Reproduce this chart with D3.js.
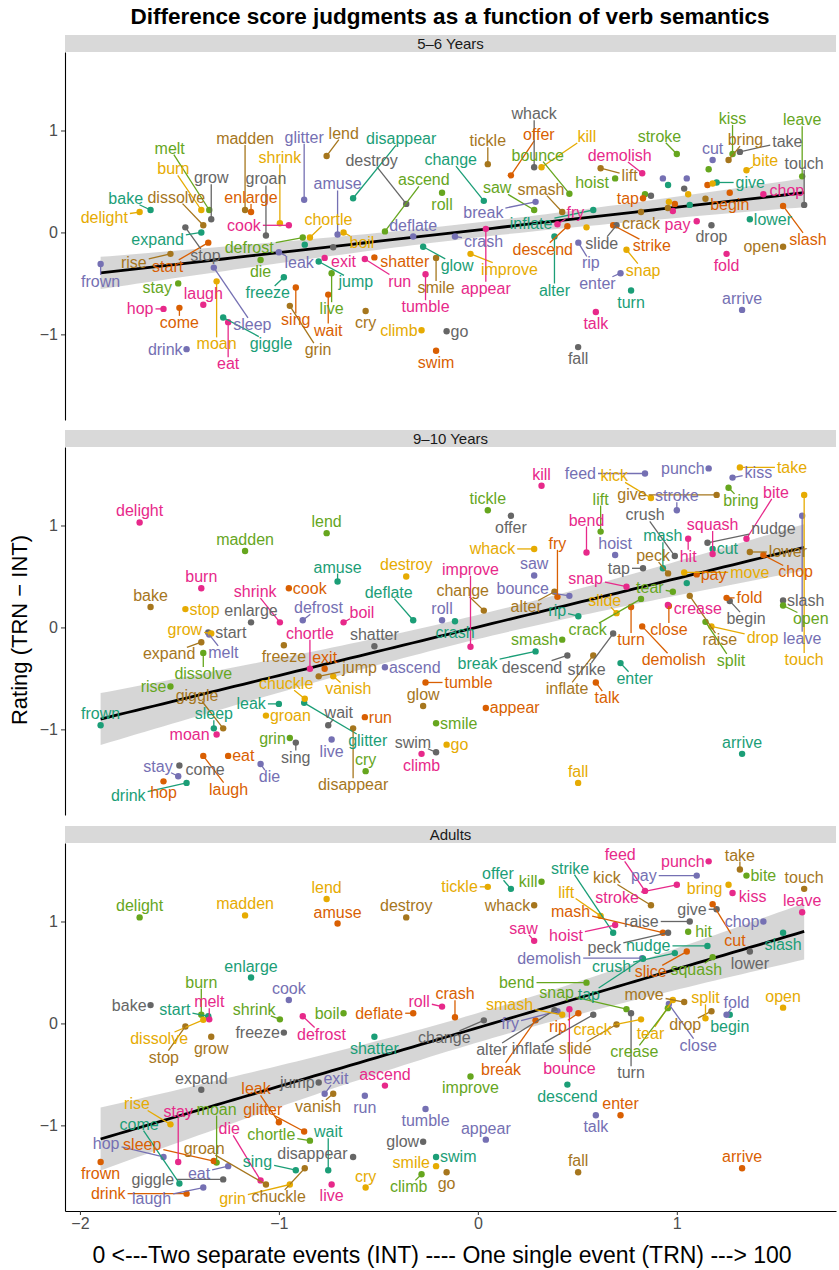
<!DOCTYPE html>
<html>
<head>
<meta charset="utf-8">
<script src="https://cdn.jsdelivr.net/npm/d3@7"></script>
<style>
  body { margin: 0; background: #fff; }
  svg text { font-family: "Liberation Sans", Arial, Helvetica, sans-serif; }
</style>
</head>
<body>
<div id="chart"></div>
<script>
/**
 * Difference score judgments as a function of verb semantics
 * - one x score per verb (shared by the three facets)
 * - per facet: rating (TRN - INT) and a colour group per verb
 * - lm fit + 95% band computed from the points
 * - labels placed next to their points, pushed outward when crowded (ggrepel style)
 */

// x score of each verb (same in every facet)
const verbX = [
  ["tickle", 0.05], ["kill", 0.32], ["feed", 0.84], ["stroke", 1.0], ["pay", 1.10],
  ["punch", 1.16], ["take", 1.317], ["bring", 1.26], ["bite", 1.35], ["touch", 1.64],
  ["offer", 0.166], ["kick", 0.87], ["cut", 1.18], ["kiss", 1.28], ["leave", 1.63],
  ["whack", 0.283], ["strike", 0.68], ["lift", 0.617], ["hoist", 0.69], ["mash", 0.93],
  ["raise", 1.065], ["give", 1.20], ["chop", 1.435], ["demolish", 0.826], ["peck", 0.956],
  ["hit", 1.057], ["nudge", 1.154], ["slash", 1.534], ["saw", 0.283], ["tap", 0.83],
  ["crush", 0.99], ["slice", 1.05], ["squash", 1.18], ["lower", 1.367], ["bend", 0.546],
  ["snap", 0.747], ["close", 0.96], ["tear", 0.98], ["bounce", 0.46], ["rip", 0.505],
  ["fry", 0.40], ["alter", 0.385], ["change", 0.03], ["turn", 0.77], ["crease", 0.955],
  ["move", 1.037], ["drop", 1.174], ["inflate", 0.58], ["begin", 1.266], ["open", 1.534],
  ["break", 0.29], ["crash", -0.115], ["smash", 0.424], ["crack", 0.82], ["split", 1.144],
  ["fold", 1.25], ["slide", 0.697], ["delight", -1.70], ["madden", -1.17], ["lend", -0.76],
  ["amuse", -0.705], ["destroy", -0.36], ["enlarge", -1.14], ["start", -1.355], ["cook", -0.95],
  ["bake", -1.645], ["burn", -1.39], ["shrink", -0.995], ["boil", -0.675], ["roll", -0.18],
  ["dissolve", -1.38], ["melt", -1.35], ["defrost", -0.88], ["deflate", -0.325], ["stop", -1.47],
  ["grow", -1.34], ["freeze", -0.975], ["shatter", -0.52], ["jump", -0.80], ["expand", -1.39],
  ["vanish", -0.727], ["ascend", -0.467], ["exit", -0.77], ["run", -0.568], ["tumble", -0.263],
  ["improve", -0.037], ["descend", 0.45], ["rise", -1.545], ["leak", -1.0], ["glitter", -0.873],
  ["chortle", -0.844], ["glow", -0.275], ["moan", -1.313], ["disappear", -0.627], ["frown", -1.896],
  ["hop", -1.58], ["sleep", -1.327], ["eat", -1.255], ["chuckle", -0.87], ["stay", -1.506],
  ["giggle", -1.28], ["sing", -0.915], ["wait", -0.752], ["swim", -0.21], ["smile", -0.21],
  ["appear", 0.04], ["talk", 0.593], ["enter", 0.717], ["come", -1.50], ["drink", -1.464],
  ["laugh", -1.38], ["die", -1.092], ["groan", -1.065], ["grin", -0.945], ["live", -0.735],
  ["cry", -0.564], ["climb", -0.283], ["go", -0.157], ["fall", 0.504], ["arrive", 1.328]
];

// [verb, rating, colour group]  groups: t o p k g y b n  (Dark2 order)
const ratings56 = [
  ["tickle", 0.67, "b"], ["kill", 0.64, "y"], ["feed", 0.375, "g"], ["stroke", 0.77, "g"], ["pay", 0.11, "k"],
  ["punch", 0.62, "g"], ["take", 0.79, "n"], ["bring", 0.71, "b"], ["bite", 0.61, "y"], ["touch", 0.27, "n"],
  ["offer", 0.56, "o"], ["kick", 0.36, "n"], ["cut", 0.71, "p"], ["kiss", 0.77, "g"], ["leave", 0.55, "g"],
  ["whack", 0.64, "n"], ["strike", 0.07, "o"], ["lift", 0.63, "b"], ["hoist", 0.53, "g"], ["mash", 0.53, "p"],
  ["raise", 0.27, "t"], ["give", 0.49, "t"], ["chop", 0.375, "k"], ["demolish", 0.58, "k"], ["peck", 0.465, "t"],
  ["hit", 0.375, "y"], ["nudge", 0.465, "o"], ["slash", 0.26, "o"], ["saw", 0.22, "g"], ["tap", 0.335, "o"],
  ["crush", 0.28, "o"], ["slice", 0.53, "p"], ["squash", 0.48, "y"], ["lower", 0.13, "t"], ["bend", 0.05, "y"],
  ["snap", -0.17, "y"], ["close", 0.30, "y"], ["tear", 0.21, "k"], ["bounce", 0.38, "g"], ["rip", -0.10, "p"],
  ["fry", 0.08, "k"], ["alter", -0.04, "t"], ["change", 0.31, "t"], ["turn", -0.57, "t"], ["crease", 0.24, "b"],
  ["move", 0.43, "n"], ["drop", 0.07, "n"], ["inflate", 0.22, "t"], ["begin", 0.39, "o"], ["open", -0.14, "b"],
  ["break", 0.30, "p"], ["crash", -0.04, "p"], ["smash", 0.20, "b"], ["crack", 0.20, "b"], ["split", 0.33, "b"],
  ["fold", -0.21, "k"], ["slide", 0.07, "n"], ["delight", 0.20, "y"], ["madden", 0.22, "b"], ["lend", 0.75, "b"],
  ["amuse", -0.02, "p"], ["destroy", 0.28, "n"], ["enlarge", 0.20, "o"], ["start", -0.10, "o"], ["cook", 0.07, "k"],
  ["bake", 0.22, "t"], ["burn", 0.22, "y"], ["shrink", 0.09, "y"], ["boil", 0.0, "y"], ["roll", 0.39, "g"],
  ["dissolve", 0.07, "b"], ["melt", 0.22, "g"], ["defrost", -0.05, "g"], ["deflate", -0.04, "p"], ["stop", 0.05, "n"],
  ["grow", 0.13, "n"], ["freeze", -0.44, "t"], ["shatter", -0.245, "o"], ["jump", -0.285, "t"], ["expand", 0.0, "t"],
  ["vanish", -0.145, "n"], ["ascend", 0.01, "g"], ["exit", -0.25, "k"], ["run", -0.26, "k"], ["tumble", -0.41, "k"],
  ["improve", -0.21, "y"], ["descend", 0.06, "o"], ["rise", -0.21, "b"], ["leak", -0.195, "p"], ["glitter", 0.32, "p"],
  ["chortle", -0.05, "y"], ["glow", -0.14, "t"], ["moan", -0.48, "y"], ["disappear", 0.335, "t"], ["frown", -0.31, "p"],
  ["hop", -0.75, "k"], ["sleep", -0.345, "p"], ["eat", -0.88, "k"], ["chuckle", -0.12, "t"], ["stay", -0.50, "g"],
  ["giggle", -0.835, "t"], ["sing", -0.54, "o"], ["wait", -0.61, "o"], ["swim", -1.16, "o"], ["smile", -0.25, "b"],
  ["appear", 0.035, "k"], ["talk", -0.78, "k"], ["enter", -0.40, "p"], ["come", -0.74, "o"], ["drink", -1.145, "p"],
  ["laugh", -0.71, "k"], ["die", -0.27, "g"], ["groan", -0.03, "n"], ["grin", -0.72, "b"], ["live", -0.40, "g"],
  ["cry", -0.77, "b"], ["climb", -0.96, "y"], ["go", -0.97, "n"], ["fall", -1.125, "n"], ["arrive", -0.76, "p"]
];

const ratings910 = [
  ["tickle", 1.15, "g"], ["kill", 1.39, "k"], ["feed", 1.51, "p"], ["stroke", 1.15, "p"], ["pay", 0.52, "o"],
  ["punch", 1.56, "p"], ["take", 1.57, "y"], ["bring", 1.37, "g"], ["bite", 0.87, "k"], ["touch", 1.30, "y"],
  ["offer", 1.095, "n"], ["kick", 1.27, "y"], ["cut", 0.77, "t"], ["kiss", 1.47, "p"], ["leave", 1.095, "p"],
  ["whack", 0.77, "y"], ["strike", -0.06, "n"], ["lift", 0.94, "g"], ["hoist", 0.71, "p"], ["mash", 0.58, "t"],
  ["raise", 0.31, "b"], ["give", 1.30, "b"], ["chop", 0.71, "o"], ["demolish", 0.01, "o"], ["peck", 0.53, "b"],
  ["hit", 0.87, "k"], ["nudge", 0.83, "n"], ["slash", 0.265, "n"], ["saw", 0.51, "p"], ["tap", 0.58, "n"],
  ["crush", 0.70, "n"], ["slice", 0.435, "t"], ["squash", 0.72, "k"], ["lower", 0.74, "b"], ["bend", 0.735, "k"],
  ["snap", 0.40, "k"], ["close", 0.21, "o"], ["tear", 0.35, "g"], ["bounce", 0.31, "p"], ["rip", 0.11, "t"],
  ["fry", 0.30, "o"], ["alter", 0.35, "b"], ["change", 0.165, "b"], ["turn", 0.20, "o"], ["crease", 0.22, "k"],
  ["move", 0.54, "y"], ["drop", 0.01, "y"], ["inflate", -0.275, "b"], ["begin", 0.26, "n"], ["open", 0.215, "g"],
  ["break", -0.235, "t"], ["crash", 0.06, "t"], ["smash", -0.12, "g"], ["crack", 0.28, "g"], ["split", 0.055, "g"],
  ["fold", 0.29, "o"], ["slide", 0.14, "y"], ["delight", 1.03, "k"], ["madden", 0.75, "g"], ["lend", 0.925, "g"],
  ["amuse", 0.45, "t"], ["destroy", 0.50, "y"], ["enlarge", 0.05, "n"], ["start", -0.05, "n"], ["cook", 0.385, "o"],
  ["bake", 0.20, "b"], ["burn", 0.385, "k"], ["shrink", 0.05, "k"], ["boil", 0.05, "k"], ["roll", 0.07, "p"],
  ["dissolve", -0.25, "g"], ["melt", -0.07, "p"], ["defrost", 0.07, "p"], ["deflate", 0.07, "t"], ["stop", 0.18, "y"],
  ["grow", -0.06, "y"], ["freeze", -0.175, "b"], ["shatter", -0.185, "n"], ["jump", -0.48, "b"], ["expand", -0.145, "b"],
  ["vanish", -0.48, "y"], ["ascend", -0.39, "p"], ["exit", -0.405, "o"], ["run", -0.88, "o"], ["tumble", -0.54, "o"],
  ["improve", -0.19, "k"], ["descend", -0.275, "n"], ["rise", -0.58, "g"], ["leak", -0.75, "t"], ["glitter", -0.74, "t"],
  ["chortle", -0.405, "k"], ["glow", -0.77, "b"], ["moan", -1.05, "k"], ["disappear", -0.99, "b"], ["frown", -0.96, "t"],
  ["hop", -1.51, "o"], ["sleep", -0.99, "t"], ["eat", -1.26, "o"], ["chuckle", -0.70, "y"], ["stay", -1.46, "p"],
  ["giggle", -0.99, "b"], ["sing", -1.13, "n"], ["wait", -0.96, "n"], ["swim", -1.225, "n"], ["smile", -0.94, "g"],
  ["appear", -0.79, "o"], ["talk", -0.54, "o"], ["enter", -0.35, "t"], ["come", -1.355, "n"], ["drink", -1.525, "t"],
  ["laugh", -1.26, "o"], ["die", -1.34, "p"], ["groan", -0.865, "y"], ["grin", -1.085, "g"], ["live", -1.10, "p"],
  ["cry", -1.41, "g"], ["climb", -1.24, "k"], ["go", -1.15, "y"], ["fall", -1.525, "y"], ["arrive", -1.24, "t"]
];

const ratingsAdult = [
  ["tickle", 1.34, "y"], ["kill", 1.39, "g"], ["feed", 1.30, "k"], ["stroke", 1.36, "k"], ["pay", 1.45, "p"],
  ["punch", 1.59, "k"], ["take", 1.51, "b"], ["bring", 1.36, "y"], ["bite", 1.45, "g"], ["touch", 1.32, "b"],
  ["offer", 1.32, "t"], ["kick", 1.16, "b"], ["cut", 1.17, "o"], ["kiss", 1.28, "k"], ["leave", 1.09, "k"],
  ["whack", 1.16, "b"], ["strike", 0.89, "t"], ["lift", 1.055, "y"], ["hoist", 0.965, "k"], ["mash", 0.89, "o"],
  ["raise", 1.00, "n"], ["give", 1.12, "n"], ["chop", 1.00, "p"], ["demolish", 0.64, "p"], ["peck", 0.89, "n"],
  ["hit", 0.90, "g"], ["nudge", 0.76, "t"], ["slash", 0.89, "t"], ["saw", 0.81, "k"], ["tap", 0.635, "t"],
  ["crush", 0.69, "t"], ["slice", 0.705, "o"], ["squash", 0.65, "g"], ["lower", 0.705, "n"], ["bend", 0.40, "g"],
  ["snap", 0.14, "g"], ["close", 0.19, "p"], ["tear", 0.23, "y"], ["bounce", 0.14, "k"], ["rip", 0.10, "o"],
  ["fry", 0.12, "p"], ["alter", 0.13, "n"], ["change", 0.03, "n"], ["turn", 0.10, "n"], ["crease", 0.15, "g"],
  ["move", 0.21, "b"], ["drop", 0.12, "b"], ["inflate", 0.085, "n"], ["begin", 0.085, "t"], ["open", 0.155, "y"],
  ["break", 0.03, "o"], ["crash", 0.06, "o"], ["smash", 0.085, "y"], ["crack", 0.04, "y"], ["split", 0.05, "y"],
  ["fold", 0.085, "p"], ["slide", -0.01, "b"], ["delight", 1.04, "g"], ["madden", 1.06, "y"], ["lend", 1.22, "y"],
  ["amuse", 0.98, "o"], ["destroy", 1.04, "b"], ["enlarge", 0.45, "t"], ["start", 0.07, "t"], ["cook", 0.23, "p"],
  ["bake", 0.18, "n"], ["burn", 0.085, "g"], ["shrink", 0.04, "g"], ["boil", 0.10, "g"], ["roll", 0.165, "k"],
  ["dissolve", 0.035, "y"], ["melt", 0.04, "k"], ["defrost", 0.07, "k"], ["deflate", 0.10, "o"], ["stop", -0.03, "b"],
  ["grow", -0.13, "b"], ["freeze", -0.09, "n"], ["shatter", -0.13, "t"], ["jump", -0.58, "n"], ["expand", -0.65, "n"],
  ["vanish", -0.69, "b"], ["ascend", -0.61, "k"], ["exit", -0.69, "p"], ["run", -0.71, "p"], ["tumble", -0.84, "p"],
  ["improve", -0.52, "g"], ["descend", -0.60, "t"], ["rise", -0.99, "y"], ["leak", -0.97, "o"], ["glitter", -1.06, "o"],
  ["chortle", -1.15, "g"], ["glow", -1.16, "n"], ["moan", -1.365, "g"], ["disappear", -1.31, "n"], ["frown", -1.36, "o"],
  ["hop", -1.31, "p"], ["sleep", -1.35, "o"], ["eat", -1.40, "p"], ["chuckle", -1.42, "b"], ["stay", -1.36, "k"],
  ["giggle", -1.53, "n"], ["sing", -1.44, "t"], ["wait", -1.44, "t"], ["swim", -1.31, "t"], ["smile", -1.40, "y"],
  ["appear", -1.14, "p"], ["talk", -0.90, "p"], ["enter", -0.90, "o"], ["come", -1.57, "t"], ["drink", -1.67, "o"],
  ["laugh", -1.61, "p"], ["die", -1.54, "k"], ["groan", -1.58, "b"], ["grin", -1.58, "y"], ["live", -1.58, "k"],
  ["cry", -1.61, "y"], ["climb", -1.48, "g"], ["go", -1.46, "b"], ["fall", -1.46, "b"], ["arrive", -1.42, "o"]
];

// points whose labels were dropped (too crowded)
const unlabeled56 = ["feed", "punch", "kick", "mash", "raise", "peck", "hit", "nudge", "crush", "slice",
  "squash", "bend", "close", "tear", "crease", "move", "split", "vanish", "chuckle"];
const unlabeled910 = ["slice"];
const unlabeledAdult = [];

const facetNames = ["5\u20136 Years", "9\u201310 Years", "Adults"];
const xTicks = [-2, -1, 0, 1];
const yTicks = [-1, 0, 1];

// ---------------------------------------------------------------
// 1) Layout
const W = 839, H = 1270;
const plotL = 65, plotR = 836, panelH = 368, stripH = 17;
const panelTops = [52, 447, 843];
const labelSize = 16;

const svg = d3.select("#chart").append("svg")
  .attr("width", W)
  .attr("height", H);

const x = d3.scaleLinear().domain([-2.075, 1.80]).range([plotL, plotR]);
const color = d3.scaleOrdinal()
  .domain(["t", "o", "p", "k", "g", "y", "b", "n"])
  .range(d3.schemeDark2);
const xOf = new Map(verbX);
const minus = v => (v < 0 ? "\u2212" + Math.abs(v) : String(v));

// 2) Title + axis titles
svg.append("text")
  .attr("x", 450).attr("y", 24)
  .attr("text-anchor", "middle")
  .attr("font-size", 22.5)
  .attr("font-weight", "bold")
  .text("Difference score judgments as a function of verb semantics");

svg.append("text")
  .attr("transform", "translate(27,630) rotate(-90)")
  .attr("text-anchor", "middle")
  .attr("font-size", 22)
  .text("Rating (TRN \u2212 INT)");

svg.append("text")
  .attr("x", 442).attr("y", 1263)
  .attr("text-anchor", "middle")
  .attr("font-size", 23)
  .text("0 <---Two separate events (INT) ---- One single event (TRN) ---> 100");

// text width helper
const meas = svg.append("text").attr("font-size", labelSize);
function textWidth(s) {
  meas.text(s);
  return meas.node().getComputedTextLength();
}

// 3) lm fit with 95% band
function fitLm(pts) {
  const n = pts.length;
  const mx = d3.mean(pts, d => d.x), my = d3.mean(pts, d => d.y);
  const sxx = d3.sum(pts, d => (d.x - mx) ** 2);
  const sxy = d3.sum(pts, d => (d.x - mx) * (d.y - my));
  const b = sxy / sxx, a = my - b * mx;
  const s = Math.sqrt(d3.sum(pts, d => (d.y - a - b * d.x) ** 2) / (n - 2));
  const t = 1.98;
  return xv => {
    const fit = a + b * xv;
    const se = s * Math.sqrt(1 / n + (xv - mx) ** 2 / sxx);
    return { fit, lo: fit - t * se, hi: fit + t * se };
  };
}

// 4) Label placement: try spots round each point, widening until free.
//    A few processing orders are tried; the one with the shortest leaders wins.
function placeLabels(nodes, pts, top) {
  const minX = plotL + 2, maxX = plotR - 2, minY = top + 2, maxY = top + panelH - 2;
  const pad = 1.5, pr = 3;
  const angles = [-90, 90, 0, 180, -35, -145, 35, 145, -60, -120, 60, 120, -15, -165, 15, 165]
    .map(a => a * Math.PI / 180);

  nodes.forEach(nd => {
    nd.crowd = pts.filter(p => Math.abs(p.cx - nd.px) < 55 && Math.abs(p.cy - nd.py) < 25).length;
  });

  function cost(nd, cx, cy, placed) {
    let c = 0;
    const l = cx - nd.w / 2, r = cx + nd.w / 2, t = cy - nd.h / 2, b = cy + nd.h / 2;
    for (const q of placed) {
      if (q === nd) continue;
      const ox = Math.min(r, q.x + q.w / 2) - Math.max(l, q.x - q.w / 2) + pad;
      const oy = Math.min(b, q.y + q.h / 2) - Math.max(t, q.y - q.h / 2) + pad;
      if (ox > 0 && oy > 0) c += 10 + ox * oy;
    }
    for (const p of pts) {
      if (p.cx > l - pr && p.cx < r + pr && p.cy > t - pr && p.cy < b + pr) c += 40;
    }
    return c;
  }

  function search(nd, placed) {
    let best = null, bestCost = Infinity;
    for (let rr = 0; rr <= 220; rr += 3) {
      for (const a of angles) {
        const cx = nd.px + Math.cos(a) * (nd.w / 2 + 3 + rr);
        const cy = nd.py + Math.sin(a) * (nd.h / 2 + 3 + rr);
        if (cx - nd.w / 2 < minX || cx + nd.w / 2 > maxX || cy - nd.h / 2 < minY || cy + nd.h / 2 > maxY) continue;
        const c = cost(nd, cx, cy, placed);
        if (c === 0) return [cx, cy];
        if (c + rr < bestCost) { bestCost = c + rr; best = [cx, cy]; }
      }
    }
    return best;
  }

  const orders = [
    (a, b) => b.crowd - a.crowd || a.px - b.px,
    (a, b) => a.crowd - b.crowd || a.px - b.px,
    (a, b) => b.px - a.px,
    (a, b) => a.py - b.py,
    (a, b) => b.py - a.py
  ];
  let bestLayout = null, bestScore = Infinity;
  for (const cmp of orders) {
    const order = nodes.slice().sort(cmp);
    const placed = [];
    for (const nd of order) {
      [nd.x, nd.y] = search(nd, placed);
      placed.push(nd);
    }
    for (let pass = 0; pass < 2; pass++) {
      for (const nd of order) [nd.x, nd.y] = search(nd, placed);
    }
    const score = d3.sum(nodes, nd => {
      const dd = Math.hypot(nd.x - nd.px, (nd.y - nd.py) * 1.6);
      return dd * dd;
    });
    if (score < bestScore) {
      bestScore = score;
      bestLayout = nodes.map(nd => [nd.x, nd.y]);
    }
  }
  nodes.forEach((nd, i) => { [nd.x, nd.y] = bestLayout[i]; });
}

// 5) Facets
const facets = [
  { name: facetNames[0], rows: ratings56, hidden: new Set(unlabeled56) },
  { name: facetNames[1], rows: ratings910, hidden: new Set(unlabeled910) },
  { name: facetNames[2], rows: ratingsAdult, hidden: new Set(unlabeledAdult) }
];

facets.forEach((f, fi) => {
  const top = panelTops[fi];
  const y = d3.scaleLinear().domain([-1.84, 1.77]).range([top + panelH, top]);
  const g = svg.append("g").attr("class", "facet");

  // strip
  g.append("rect")
    .attr("x", plotL).attr("y", top - stripH)
    .attr("width", plotR - plotL).attr("height", stripH)
    .attr("fill", "#d9d9d9");
  g.append("text")
    .attr("x", (plotL + plotR) / 2).attr("y", top - stripH / 2 + 5.5)
    .attr("text-anchor", "middle")
    .attr("font-size", 15)
    .attr("fill", "#1a1a1a")
    .text(f.name);

  // y axis
  const yAxis = g.append("g")
    .attr("transform", `translate(${plotL},0)`)
    .call(d3.axisLeft(y).tickValues(yTicks).tickSize(4).tickSizeOuter(0).tickFormat(minus));
  yAxis.select(".domain").attr("stroke", "#000").attr("stroke-width", 1.1);
  yAxis.selectAll(".tick line").attr("stroke", "#333");
  yAxis.selectAll(".tick text").attr("font-size", 16).attr("fill", "#4d4d4d")
    .style("font-family", "'Liberation Sans', Arial, sans-serif");

  // data
  const pts = f.rows.map(([verb, rating, grp]) => ({
    verb, x: xOf.get(verb), y: rating, grp,
    cx: x(xOf.get(verb)), cy: y(rating)
  }));

  // lm band + line
  const model = fitLm(pts);
  const [x0, x1] = d3.extent(pts, d => d.x);
  const grid = d3.range(80).map(i => x0 + (x1 - x0) * i / 79).map(xv => ({ xv, ...model(xv) }));
  g.append("path")
    .datum(grid)
    .attr("fill", "#999999")
    .attr("fill-opacity", 0.4)
    .attr("d", d3.area().x(d => x(d.xv)).y0(d => y(d.lo)).y1(d => y(d.hi)));
  g.append("path")
    .datum(grid)
    .attr("fill", "none")
    .attr("stroke", "#000")
    .attr("stroke-width", 2.8)
    .attr("d", d3.line().x(d => x(d.xv)).y(d => y(d.fit)));

  // points
  g.selectAll(".pt")
    .data(pts)
    .enter()
    .append("circle")
    .attr("class", "pt")
    .attr("cx", d => d.cx)
    .attr("cy", d => d.cy)
    .attr("r", 3.2)
    .attr("fill", d => color(d.grp));

  // labels
  const nodes = pts.filter(d => !f.hidden.has(d.verb)).map(d => ({
    d, w: textWidth(d.verb) + 2, h: 17, px: d.cx, py: d.cy
  }));
  placeLabels(nodes, pts, top);

  nodes.forEach(nd => {
    const dx = nd.x - nd.px, dy = nd.y - nd.py;
    const s = Math.min(
      dx === 0 ? Infinity : (nd.w / 2 + 1) / Math.abs(dx),
      dy === 0 ? Infinity : (nd.h / 2 - 2) / Math.abs(dy)
    );
    const len = Math.hypot(dx, dy) * (1 - s);
    if (s < 1 && len > 7) {
      g.append("line")
        .attr("x1", nd.px).attr("y1", nd.py)
        .attr("x2", nd.x - dx * s).attr("y2", nd.y - dy * s)
        .attr("stroke", color(nd.d.grp))
        .attr("stroke-width", 1.3);
    }
  });

  g.selectAll(".lbl")
    .data(nodes)
    .enter()
    .append("text")
    .attr("class", "lbl")
    .attr("x", nd => nd.x)
    .attr("y", nd => nd.y + 5.5)
    .attr("text-anchor", "middle")
    .attr("font-size", labelSize)
    .attr("fill", nd => color(nd.d.grp))
    .text(nd => nd.d.verb);

  // x axis only under the last facet
  if (fi === facets.length - 1) {
    const xAxis = g.append("g")
      .attr("transform", `translate(0,${top + panelH})`)
      .call(d3.axisBottom(x).tickValues(xTicks).tickSize(4).tickSizeOuter(0).tickFormat(minus));
    xAxis.select(".domain").attr("stroke", "#000").attr("stroke-width", 1.1);
    xAxis.selectAll(".tick line").attr("stroke", "#333");
    xAxis.selectAll(".tick text").attr("font-size", 16).attr("fill", "#4d4d4d")
      .style("font-family", "'Liberation Sans', Arial, sans-serif");
  }
});

meas.remove();
</script>
</body>
</html>
